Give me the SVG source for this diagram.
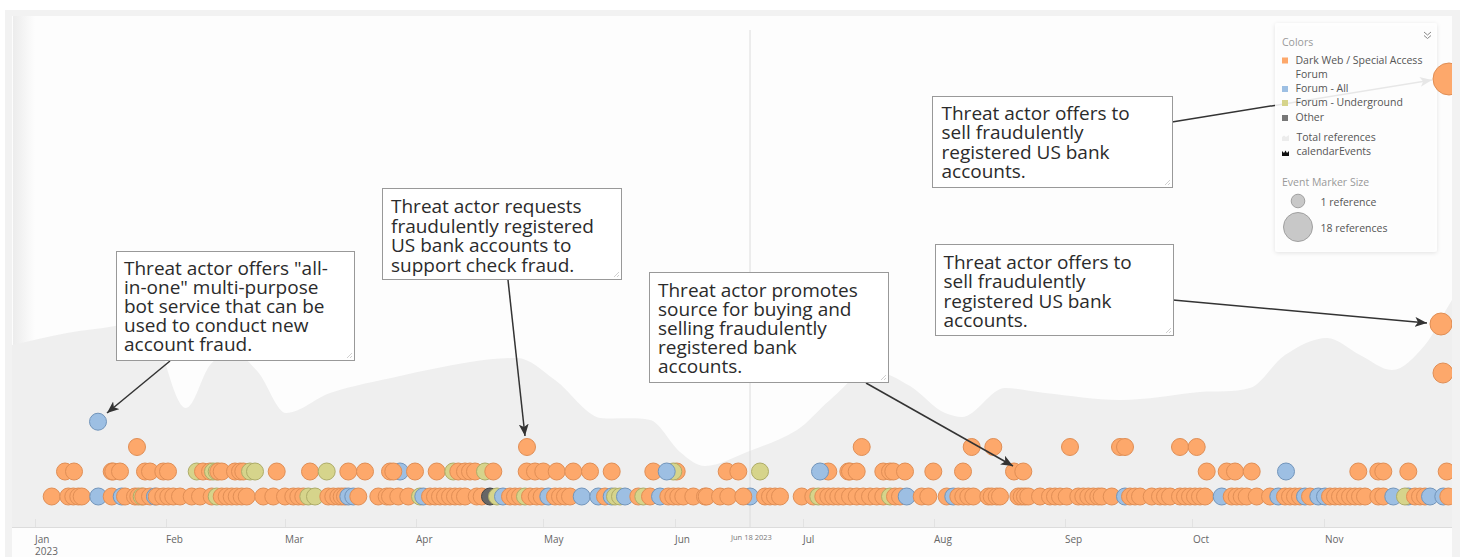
<svg xmlns="http://www.w3.org/2000/svg" width="1460" height="557" viewBox="0 0 1460 557">
<style>
text{font-family:"Open Sans","Noto Sans","Liberation Sans",sans-serif}
.o{fill:#fda86b;stroke:#e08e55;stroke-width:1}
.b{fill:#9dbfe3;stroke:#7295bb;stroke-width:1}
.y{fill:#d6d48b;stroke:#aeac68;stroke-width:1}
.k{fill:#666;stroke:#444;stroke-width:1}
.box{fill:#fff;stroke:#999;stroke-width:1}
.grip{stroke:#c4c4c4;stroke-width:0.8;fill:none}
.ct{font-size:19px;fill:#2b2b2b}
.ax{font-size:10px;fill:#666}
.lg{font-size:10.5px;fill:#555}
.lh{font-size:10.5px;fill:#999}
.conn{stroke:#333;stroke-width:1.5;fill:none;marker-end:url(#ah)}
</style>
<defs>
<marker id="ah" markerWidth="13" markerHeight="10" refX="12" refY="5" orient="auto" markerUnits="userSpaceOnUse">
<path d="M0,0 L12,5 L0,10 L3,5 z" fill="#333"/>
</marker>
<linearGradient id="lsh" x1="0" y1="0" x2="1" y2="0">
<stop offset="0" stop-color="#ececec"/>
<stop offset="1" stop-color="#fdfdfd"/>
</linearGradient>
<clipPath id="plot"><rect x="12" y="16" width="1440" height="511"/></clipPath>
<filter id="sh" x="-10%" y="-10%" width="120%" height="120%">
<feDropShadow dx="0" dy="1" stdDeviation="2" flood-color="#000" flood-opacity="0.12"/>
</filter>
</defs>

<g id="frame">
<rect x="0" y="0" width="1460" height="557" fill="#fff"/>
<rect x="5" y="10" width="1455" height="547" fill="#f2f2f2"/>
<rect x="12" y="16" width="1440" height="541" fill="#fdfdfd"/>
<rect x="13" y="16" width="22" height="511" fill="url(#lsh)"/>
<path fill="#efefef" d="M12,345 C30.3,341 48.7,336.4 67,333 C83,330.1 99,329.1 115,326 C125,324.1 135,318 145,318 C158.7,318 172.3,408 186,408 C194,408 202,374.7 210,365 C217.3,356.1 224.7,352 232,352 C240.7,352 249.3,362.2 258,372 C267.3,382.5 276.7,413 286,413 C300.7,413 315.3,397.8 330,393 C353.3,385.4 376.7,381.2 400,376 C423.3,370.8 446.7,365.6 470,362 C485.7,359.6 501.3,358 517,358 C529.7,358 542.3,370.8 555,380 C570,390.8 585,415 600,418 C616.7,419.7 633.3,416.7 650,420 C660,422 670,443.6 680,452 C688.3,459 696.7,466 705,466 C719,466 733,457.5 747,452 C763.7,445.5 780.3,440.5 797,430 C808,423.1 819,409 830,400 C843.3,389 856.7,370 870,370 C883.3,370 896.7,378.4 910,386 C921.7,392.7 933.3,408.3 945,413 C950.7,415.3 956.3,417 962,417 C976.3,417 990.7,388 1005,388 C1018.3,388 1031.7,391.6 1045,393 C1070,395.6 1095,400 1120,400 C1146.7,400 1173.3,394.5 1200,392 C1216.7,390.5 1233.3,393 1250,388 C1261.7,384.5 1273.3,362.6 1285,355 C1299,345.9 1313,338 1327,338 C1338,338 1349,349.6 1360,355 C1370.7,360.2 1381.3,370 1392,370 C1403,370 1414,357.8 1425,345 C1434,334.5 1443,313.5 1452,300 L1452,527 L12,527 Z"/>
<line x1="750" y1="30" x2="750" y2="527" stroke="#dcdcdc" stroke-width="1"/>
</g>

<g id="axis">
<line x1="12" y1="527.5" x2="1452" y2="527.5" stroke="#dcdcdc" stroke-width="1"/>
<g stroke="#e2e2e2" stroke-width="1">
<line x1="35.5" y1="519" x2="35.5" y2="527"/><line x1="166.5" y1="519" x2="166.5" y2="527"/><line x1="285.5" y1="519" x2="285.5" y2="527"/><line x1="416.5" y1="519" x2="416.5" y2="527"/><line x1="543.5" y1="519" x2="543.5" y2="527"/><line x1="675.5" y1="519" x2="675.5" y2="527"/><line x1="803.5" y1="519" x2="803.5" y2="527"/><line x1="934.5" y1="519" x2="934.5" y2="527"/><line x1="1065.5" y1="519" x2="1065.5" y2="527"/><line x1="1192.5" y1="519" x2="1192.5" y2="527"/><line x1="1324.5" y1="519" x2="1324.5" y2="527"/>
</g>
<text class="ax" x="35" y="543">Jan</text>
<text class="ax" x="35" y="554.5">2023</text>
<text class="ax" x="166" y="543">Feb</text>
<text class="ax" x="285" y="543">Mar</text>
<text class="ax" x="416" y="543">Apr</text>
<text class="ax" x="544" y="543">May</text>
<text class="ax" x="675" y="543">Jun</text>
<text class="ax" x="803" y="543">Jul</text>
<text class="ax" x="934" y="543">Aug</text>
<text class="ax" x="1065" y="543">Sep</text>
<text class="ax" x="1193" y="543">Oct</text>
<text class="ax" x="1325" y="543">Nov</text>
<text x="731" y="540" style="font-size:7.5px;fill:#777">Jun 18 2023</text>
</g>

<g id="markers" clip-path="url(#plot)">
<circle class="b" cx="98" cy="421.7" r="8.5"/>
<circle class="o" cx="137" cy="447" r="8.5"/>
<circle class="o" cx="527" cy="447" r="8.5"/>
<circle class="o" cx="861.7" cy="447" r="8.5"/>
<circle class="o" cx="971.7" cy="447" r="8.5"/>
<circle class="o" cx="993.3" cy="447" r="8.5"/>
<circle class="o" cx="1070" cy="447" r="8.5"/>
<circle class="o" cx="1120" cy="447" r="8.5"/>
<circle class="o" cx="1125" cy="447" r="8.5"/>
<circle class="o" cx="1180" cy="447" r="8.5"/>
<circle class="o" cx="1196.7" cy="447" r="8.5"/>
<circle class="o" cx="1441" cy="324" r="11"/>
<circle class="o" cx="1443" cy="373" r="10"/>

<circle class="o" cx="65" cy="471.5" r="8.5"/>
<circle class="o" cx="74" cy="471.5" r="8.5"/>
<circle class="o" cx="111.7" cy="471.5" r="8.5"/>
<circle class="o" cx="113.3" cy="471.5" r="8.5"/>
<circle class="o" cx="120" cy="471.5" r="8.5"/>
<circle class="o" cx="145" cy="471.5" r="8.5"/>
<circle class="o" cx="150" cy="471.5" r="8.5"/>
<circle class="o" cx="163.3" cy="471.5" r="8.5"/>
<circle class="o" cx="168" cy="471.5" r="8.5"/>
<circle class="y" cx="196.7" cy="471.5" r="8.5"/>
<circle class="o" cx="203" cy="471.5" r="8.5"/>
<circle class="o" cx="210" cy="471.5" r="8.5"/>
<circle class="y" cx="213" cy="471.5" r="8.5"/>
<circle class="y" cx="216.7" cy="471.5" r="8.5"/>
<circle class="o" cx="218.3" cy="471.5" r="8.5"/>
<circle class="o" cx="221.7" cy="471.5" r="8.5"/>
<circle class="o" cx="235" cy="471.5" r="8.5"/>
<circle class="o" cx="240" cy="471.5" r="8.5"/>
<circle class="o" cx="243.3" cy="471.5" r="8.5"/>
<circle class="y" cx="250" cy="471.5" r="8.5"/>
<circle class="y" cx="255" cy="471.5" r="8.5"/>
<circle class="o" cx="276.7" cy="471.5" r="8.5"/>
<circle class="o" cx="310" cy="471.5" r="8.5"/>
<circle class="y" cx="326.7" cy="471.5" r="8.5"/>
<circle class="o" cx="348.3" cy="471.5" r="8.5"/>
<circle class="o" cx="365" cy="471.5" r="8.5"/>
<circle class="b" cx="400" cy="471.5" r="8.5"/>
<circle class="o" cx="390" cy="471.5" r="8.5"/>
<circle class="o" cx="393.3" cy="471.5" r="8.5"/>
<circle class="o" cx="415" cy="471.5" r="8.5"/>
<circle class="o" cx="436.7" cy="471.5" r="8.5"/>
<circle class="y" cx="453.3" cy="471.5" r="8.5"/>
<circle class="o" cx="458.3" cy="471.5" r="8.5"/>
<circle class="o" cx="465" cy="471.5" r="8.5"/>
<circle class="o" cx="470" cy="471.5" r="8.5"/>
<circle class="o" cx="475" cy="471.5" r="8.5"/>
<circle class="y" cx="485" cy="471.5" r="8.5"/>
<circle class="o" cx="493.3" cy="471.5" r="8.5"/>
<circle class="o" cx="526.7" cy="471.5" r="8.5"/>
<circle class="o" cx="535" cy="471.5" r="8.5"/>
<circle class="o" cx="543.3" cy="471.5" r="8.5"/>
<circle class="o" cx="556.7" cy="471.5" r="8.5"/>
<circle class="o" cx="573.3" cy="471.5" r="8.5"/>
<circle class="o" cx="590" cy="471.5" r="8.5"/>
<circle class="o" cx="611.7" cy="471.5" r="8.5"/>
<circle class="o" cx="653.3" cy="471.5" r="8.5"/>
<circle class="o" cx="676.7" cy="471.5" r="8.5"/>
<circle class="y" cx="673.3" cy="471.5" r="8.5"/>
<circle class="b" cx="666.7" cy="471.5" r="8.5"/>
<circle class="o" cx="726.7" cy="471.5" r="8.5"/>
<circle class="o" cx="738.3" cy="471.5" r="8.5"/>
<circle class="y" cx="760" cy="471.5" r="8.5"/>
<circle class="o" cx="828.3" cy="471.5" r="8.5"/>
<circle class="b" cx="820" cy="471.5" r="8.5"/>
<circle class="o" cx="848.3" cy="471.5" r="8.5"/>
<circle class="o" cx="850" cy="471.5" r="8.5"/>
<circle class="o" cx="856.7" cy="471.5" r="8.5"/>
<circle class="o" cx="883.3" cy="471.5" r="8.5"/>
<circle class="o" cx="890" cy="471.5" r="8.5"/>
<circle class="o" cx="893.3" cy="471.5" r="8.5"/>
<circle class="o" cx="905" cy="471.5" r="8.5"/>
<circle class="o" cx="933.3" cy="471.5" r="8.5"/>
<circle class="o" cx="963" cy="471.5" r="8.5"/>
<circle class="o" cx="1014" cy="471.5" r="8.5"/>
<circle class="o" cx="1023.3" cy="471.5" r="8.5"/>
<circle class="o" cx="1206.7" cy="471.5" r="8.5"/>
<circle class="o" cx="1226.7" cy="471.5" r="8.5"/>
<circle class="o" cx="1235" cy="471.5" r="8.5"/>
<circle class="o" cx="1251.7" cy="471.5" r="8.5"/>
<circle class="b" cx="1286" cy="471.5" r="8.5"/>
<circle class="o" cx="1358.3" cy="471.5" r="8.5"/>
<circle class="o" cx="1378.3" cy="471.5" r="8.5"/>
<circle class="o" cx="1383.3" cy="471.5" r="8.5"/>
<circle class="o" cx="1408.3" cy="471.5" r="8.5"/>
<circle class="o" cx="1446.7" cy="471.5" r="8.5"/>

<circle class="o" cx="51.7" cy="496.5" r="8.5"/>
<circle class="o" cx="68.3" cy="496.5" r="8.5"/>
<circle class="o" cx="73.3" cy="496.5" r="8.5"/>
<circle class="o" cx="78.3" cy="496.5" r="8.5"/>
<circle class="o" cx="81.7" cy="496.5" r="8.5"/>
<circle class="b" cx="98.3" cy="496.5" r="8.5"/>
<circle class="o" cx="111.7" cy="496.5" r="8.5"/>
<circle class="b" cx="121.7" cy="496.5" r="8.5"/>
<circle class="o" cx="125" cy="496.5" r="8.5"/>
<circle class="o" cx="135" cy="496.5" r="8.5"/>
<circle class="o" cx="138.3" cy="496.5" r="8.5"/>
<circle class="y" cx="141.7" cy="496.5" r="8.5"/>
<circle class="o" cx="143.3" cy="496.5" r="8.5"/>
<circle class="o" cx="150" cy="496.5" r="8.5"/>
<circle class="b" cx="155" cy="496.5" r="8.5"/>
<circle class="o" cx="156.7" cy="496.5" r="8.5"/>
<circle class="o" cx="163.3" cy="496.5" r="8.5"/>
<circle class="o" cx="168.3" cy="496.5" r="8.5"/>
<circle class="o" cx="173.3" cy="496.5" r="8.5"/>
<circle class="o" cx="180" cy="496.5" r="8.5"/>
<circle class="o" cx="191.7" cy="496.5" r="8.5"/>
<circle class="o" cx="200" cy="496.5" r="8.5"/>
<circle class="o" cx="211.7" cy="496.5" r="8.5"/>
<circle class="y" cx="216.7" cy="496.5" r="8.5"/>
<circle class="o" cx="221.7" cy="496.5" r="8.5"/>
<circle class="o" cx="226.7" cy="496.5" r="8.5"/>
<circle class="o" cx="231.7" cy="496.5" r="8.5"/>
<circle class="o" cx="236.7" cy="496.5" r="8.5"/>
<circle class="o" cx="241.7" cy="496.5" r="8.5"/>
<circle class="o" cx="246.7" cy="496.5" r="8.5"/>
<circle class="o" cx="263.3" cy="496.5" r="8.5"/>
<circle class="o" cx="273.3" cy="496.5" r="8.5"/>
<circle class="o" cx="285" cy="496.5" r="8.5"/>
<circle class="o" cx="293.3" cy="496.5" r="8.5"/>
<circle class="o" cx="298.3" cy="496.5" r="8.5"/>
<circle class="o" cx="303.3" cy="496.5" r="8.5"/>
<circle class="y" cx="308.3" cy="496.5" r="8.5"/>
<circle class="y" cx="315" cy="496.5" r="8.5"/>
<circle class="o" cx="328.3" cy="496.5" r="8.5"/>
<circle class="o" cx="333.3" cy="496.5" r="8.5"/>
<circle class="o" cx="338.3" cy="496.5" r="8.5"/>
<circle class="o" cx="341.7" cy="496.5" r="8.5"/>
<circle class="o" cx="345" cy="496.5" r="8.5"/>
<circle class="b" cx="348.3" cy="496.5" r="8.5"/>
<circle class="b" cx="353.3" cy="496.5" r="8.5"/>
<circle class="o" cx="358.3" cy="496.5" r="8.5"/>
<circle class="o" cx="378.3" cy="496.5" r="8.5"/>
<circle class="o" cx="386.7" cy="496.5" r="8.5"/>
<circle class="o" cx="390" cy="496.5" r="8.5"/>
<circle class="o" cx="398.3" cy="496.5" r="8.5"/>
<circle class="o" cx="408.3" cy="496.5" r="8.5"/>
<circle class="y" cx="420" cy="496.5" r="8.5"/>
<circle class="b" cx="423.3" cy="496.5" r="8.5"/>
<circle class="o" cx="430" cy="496.5" r="8.5"/>
<circle class="o" cx="435" cy="496.5" r="8.5"/>
<circle class="o" cx="440" cy="496.5" r="8.5"/>
<circle class="o" cx="445" cy="496.5" r="8.5"/>
<circle class="o" cx="450" cy="496.5" r="8.5"/>
<circle class="o" cx="455" cy="496.5" r="8.5"/>
<circle class="o" cx="460" cy="496.5" r="8.5"/>
<circle class="o" cx="465" cy="496.5" r="8.5"/>
<circle class="o" cx="476.7" cy="496.5" r="8.5"/>
<circle class="o" cx="481.7" cy="496.5" r="8.5"/>
<circle class="k" cx="490" cy="496.5" r="8.5"/>
<circle class="y" cx="497" cy="496.5" r="8.5"/>
<circle class="b" cx="503" cy="496.5" r="8.5"/>
<circle class="o" cx="510" cy="496.5" r="8.5"/>
<circle class="o" cx="515" cy="496.5" r="8.5"/>
<circle class="o" cx="520" cy="496.5" r="8.5"/>
<circle class="y" cx="525" cy="496.5" r="8.5"/>
<circle class="o" cx="530" cy="496.5" r="8.5"/>
<circle class="o" cx="536.7" cy="496.5" r="8.5"/>
<circle class="o" cx="541.7" cy="496.5" r="8.5"/>
<circle class="b" cx="548.3" cy="496.5" r="8.5"/>
<circle class="o" cx="555" cy="496.5" r="8.5"/>
<circle class="o" cx="560" cy="496.5" r="8.5"/>
<circle class="o" cx="565" cy="496.5" r="8.5"/>
<circle class="o" cx="570" cy="496.5" r="8.5"/>
<circle class="b" cx="581.7" cy="496.5" r="8.5"/>
<circle class="b" cx="598.3" cy="496.5" r="8.5"/>
<circle class="o" cx="605" cy="496.5" r="8.5"/>
<circle class="b" cx="611.7" cy="496.5" r="8.5"/>
<circle class="y" cx="615" cy="496.5" r="8.5"/>
<circle class="y" cx="620" cy="496.5" r="8.5"/>
<circle class="b" cx="625" cy="496.5" r="8.5"/>
<circle class="o" cx="638.3" cy="496.5" r="8.5"/>
<circle class="y" cx="643.3" cy="496.5" r="8.5"/>
<circle class="o" cx="650" cy="496.5" r="8.5"/>
<circle class="b" cx="660" cy="496.5" r="8.5"/>
<circle class="o" cx="668.3" cy="496.5" r="8.5"/>
<circle class="o" cx="673.3" cy="496.5" r="8.5"/>
<circle class="o" cx="678.3" cy="496.5" r="8.5"/>
<circle class="o" cx="683.3" cy="496.5" r="8.5"/>
<circle class="o" cx="693.3" cy="496.5" r="8.5"/>
<circle class="o" cx="705" cy="496.5" r="8.5"/>
<circle class="o" cx="706.7" cy="496.5" r="8.5"/>
<circle class="o" cx="720" cy="496.5" r="8.5"/>
<circle class="o" cx="728.3" cy="496.5" r="8.5"/>
<circle class="b" cx="750" cy="496.5" r="8.5"/>
<circle class="o" cx="743.3" cy="496.5" r="8.5"/>
<circle class="o" cx="765" cy="496.5" r="8.5"/>
<circle class="o" cx="770" cy="496.5" r="8.5"/>
<circle class="o" cx="775" cy="496.5" r="8.5"/>
<circle class="o" cx="780" cy="496.5" r="8.5"/>
<circle class="o" cx="801.7" cy="496.5" r="8.5"/>
<circle class="o" cx="813.3" cy="496.5" r="8.5"/>
<circle class="y" cx="818.3" cy="496.5" r="8.5"/>
<circle class="o" cx="823.3" cy="496.5" r="8.5"/>
<circle class="o" cx="828.3" cy="496.5" r="8.5"/>
<circle class="o" cx="833.3" cy="496.5" r="8.5"/>
<circle class="o" cx="838.3" cy="496.5" r="8.5"/>
<circle class="o" cx="843.3" cy="496.5" r="8.5"/>
<circle class="o" cx="850" cy="496.5" r="8.5"/>
<circle class="o" cx="856.7" cy="496.5" r="8.5"/>
<circle class="o" cx="863.3" cy="496.5" r="8.5"/>
<circle class="o" cx="870" cy="496.5" r="8.5"/>
<circle class="o" cx="876.7" cy="496.5" r="8.5"/>
<circle class="o" cx="883.3" cy="496.5" r="8.5"/>
<circle class="y" cx="890" cy="496.5" r="8.5"/>
<circle class="o" cx="895" cy="496.5" r="8.5"/>
<circle class="o" cx="900" cy="496.5" r="8.5"/>
<circle class="b" cx="906.7" cy="496.5" r="8.5"/>
<circle class="o" cx="921.7" cy="496.5" r="8.5"/>
<circle class="o" cx="928.3" cy="496.5" r="8.5"/>
<circle class="o" cx="946.7" cy="496.5" r="8.5"/>
<circle class="b" cx="953.3" cy="496.5" r="8.5"/>
<circle class="o" cx="958.3" cy="496.5" r="8.5"/>
<circle class="o" cx="963.3" cy="496.5" r="8.5"/>
<circle class="o" cx="968.3" cy="496.5" r="8.5"/>
<circle class="o" cx="973.3" cy="496.5" r="8.5"/>
<circle class="o" cx="988.3" cy="496.5" r="8.5"/>
<circle class="o" cx="991.7" cy="496.5" r="8.5"/>
<circle class="o" cx="996.7" cy="496.5" r="8.5"/>
<circle class="o" cx="1000" cy="496.5" r="8.5"/>
<circle class="o" cx="1018.3" cy="496.5" r="8.5"/>
<circle class="o" cx="1021.7" cy="496.5" r="8.5"/>
<circle class="o" cx="1025" cy="496.5" r="8.5"/>
<circle class="o" cx="1028.3" cy="496.5" r="8.5"/>
<circle class="o" cx="1040" cy="496.5" r="8.5"/>
<circle class="o" cx="1050" cy="496.5" r="8.5"/>
<circle class="o" cx="1055" cy="496.5" r="8.5"/>
<circle class="o" cx="1060" cy="496.5" r="8.5"/>
<circle class="o" cx="1066.7" cy="496.5" r="8.5"/>
<circle class="o" cx="1078.3" cy="496.5" r="8.5"/>
<circle class="o" cx="1083.3" cy="496.5" r="8.5"/>
<circle class="o" cx="1088.3" cy="496.5" r="8.5"/>
<circle class="o" cx="1093.3" cy="496.5" r="8.5"/>
<circle class="o" cx="1098.3" cy="496.5" r="8.5"/>
<circle class="o" cx="1101.7" cy="496.5" r="8.5"/>
<circle class="o" cx="1111.7" cy="496.5" r="8.5"/>
<circle class="b" cx="1125" cy="496.5" r="8.5"/>
<circle class="o" cx="1130" cy="496.5" r="8.5"/>
<circle class="o" cx="1135" cy="496.5" r="8.5"/>
<circle class="o" cx="1140" cy="496.5" r="8.5"/>
<circle class="o" cx="1151.7" cy="496.5" r="8.5"/>
<circle class="o" cx="1160" cy="496.5" r="8.5"/>
<circle class="o" cx="1165" cy="496.5" r="8.5"/>
<circle class="o" cx="1170" cy="496.5" r="8.5"/>
<circle class="o" cx="1180" cy="496.5" r="8.5"/>
<circle class="o" cx="1185" cy="496.5" r="8.5"/>
<circle class="o" cx="1190" cy="496.5" r="8.5"/>
<circle class="o" cx="1195" cy="496.5" r="8.5"/>
<circle class="o" cx="1200" cy="496.5" r="8.5"/>
<circle class="o" cx="1205" cy="496.5" r="8.5"/>
<circle class="b" cx="1221.7" cy="496.5" r="8.5"/>
<circle class="o" cx="1231.7" cy="496.5" r="8.5"/>
<circle class="o" cx="1236.7" cy="496.5" r="8.5"/>
<circle class="o" cx="1241.7" cy="496.5" r="8.5"/>
<circle class="o" cx="1246.7" cy="496.5" r="8.5"/>
<circle class="o" cx="1256.7" cy="496.5" r="8.5"/>
<circle class="o" cx="1270" cy="496.5" r="8.5"/>
<circle class="b" cx="1278.3" cy="496.5" r="8.5"/>
<circle class="o" cx="1285" cy="496.5" r="8.5"/>
<circle class="o" cx="1290" cy="496.5" r="8.5"/>
<circle class="o" cx="1295" cy="496.5" r="8.5"/>
<circle class="o" cx="1300" cy="496.5" r="8.5"/>
<circle class="b" cx="1305" cy="496.5" r="8.5"/>
<circle class="o" cx="1310" cy="496.5" r="8.5"/>
<circle class="b" cx="1318.3" cy="496.5" r="8.5"/>
<circle class="b" cx="1325" cy="496.5" r="8.5"/>
<circle class="o" cx="1330" cy="496.5" r="8.5"/>
<circle class="o" cx="1335" cy="496.5" r="8.5"/>
<circle class="o" cx="1340" cy="496.5" r="8.5"/>
<circle class="o" cx="1345" cy="496.5" r="8.5"/>
<circle class="o" cx="1350" cy="496.5" r="8.5"/>
<circle class="o" cx="1355" cy="496.5" r="8.5"/>
<circle class="o" cx="1360" cy="496.5" r="8.5"/>
<circle class="o" cx="1365" cy="496.5" r="8.5"/>
<circle class="o" cx="1378.3" cy="496.5" r="8.5"/>
<circle class="o" cx="1383.3" cy="496.5" r="8.5"/>
<circle class="b" cx="1393.3" cy="496.5" r="8.5"/>
<circle class="b" cx="1408.3" cy="496.5" r="8.5"/>
<circle class="y" cx="1405" cy="496.5" r="8.5"/>
<circle class="o" cx="1415" cy="496.5" r="8.5"/>
<circle class="o" cx="1420" cy="496.5" r="8.5"/>
<circle class="o" cx="1425" cy="496.5" r="8.5"/>
<circle class="b" cx="1430" cy="496.5" r="8.5"/>
<circle class="b" cx="1443.3" cy="496.5" r="8.5"/>
<circle class="o" cx="1448.3" cy="496.5" r="8.5"/>
</g>

<g id="connectors">
<line class="conn" x1="170" y1="361" x2="107" y2="413"/>
<line class="conn" x1="508" y1="280" x2="525" y2="436"/>
<line class="conn" x1="866" y1="383" x2="1013" y2="466"/>
<line class="conn" x1="1172" y1="122" x2="1432" y2="80"/>
<line class="conn" x1="1173" y1="300" x2="1427" y2="323"/>
</g>

<g id="note-all-in-one">
<rect class="box" x="116.5" y="251.5" width="238" height="109"/>
<path class="grip" d="M347,358 L352,353 M350,358 L352,356"/>
<text class="ct"><tspan x="124" y="275">Threat actor offers "all-</tspan><tspan x="124" y="294">in-one" multi-purpose</tspan><tspan x="124" y="313">bot service that can be</tspan><tspan x="124" y="332">used to conduct new</tspan><tspan x="124" y="351">account fraud.</tspan></text>
</g>

<g id="note-requests">
<rect class="box" x="382.5" y="188.5" width="239" height="91"/>
<path class="grip" d="M614,277 L619,272 M617,277 L619,275"/>
<text class="ct"><tspan x="391" y="213">Threat actor requests</tspan><tspan x="391" y="232.5">fraudulently registered</tspan><tspan x="391" y="252">US bank accounts to</tspan><tspan x="391" y="271.5">support check fraud.</tspan></text>
</g>

<g id="note-promotes">
<rect class="box" x="649.5" y="272.5" width="239" height="110"/>
<path class="grip" d="M881,380 L886,375 M884,380 L886,378"/>
<text class="ct"><tspan x="658" y="297">Threat actor promotes</tspan><tspan x="658" y="316">source for buying and</tspan><tspan x="658" y="335">selling fraudulently</tspan><tspan x="658" y="354">registered bank</tspan><tspan x="658" y="373">accounts.</tspan></text>
</g>

<g id="note-offers-top">
<rect class="box" x="932.5" y="96.5" width="240" height="91"/>
<path class="grip" d="M1165,185 L1170,180 M1168,185 L1170,183"/>
<text class="ct"><tspan x="941.5" y="120">Threat actor offers to</tspan><tspan x="941.5" y="139.3">sell fraudulently</tspan><tspan x="941.5" y="158.7">registered US bank</tspan><tspan x="941.5" y="178">accounts.</tspan></text>
</g>

<g id="note-offers-bottom">
<rect class="box" x="935.5" y="244.5" width="238" height="91"/>
<path class="grip" d="M1166,333 L1171,328 M1169,333 L1171,331"/>
<text class="ct"><tspan x="943.5" y="269.3">Threat actor offers to</tspan><tspan x="943.5" y="288.3">sell fraudulently</tspan><tspan x="943.5" y="307.7">registered US bank</tspan><tspan x="943.5" y="326.7">accounts.</tspan></text>
</g>

<g id="legend">
<rect x="1275" y="23" width="162" height="229" rx="3" fill="#fff" fill-opacity="0.88" filter="url(#sh)"/>
<path d="M1424,32 l3.5,3 l3.5,-3 M1424,35.5 l3.5,3 l3.5,-3" stroke="#888" stroke-width="1" fill="none"/>
<text class="lh" x="1282" y="46">Colors</text>
<rect x="1282" y="57.5" width="6" height="6" fill="#fda86b"/>
<text class="lg" x="1295.5" y="63.5">Dark Web / Special Access</text>
<text class="lg" x="1295.5" y="77.5">Forum</text>
<rect x="1282" y="86" width="6" height="6" fill="#9dbfe3"/>
<text class="lg" x="1295.5" y="92.3">Forum - All</text>
<rect x="1282" y="100" width="6" height="6" fill="#d6d48b"/>
<text class="lg" x="1295.5" y="106.3">Forum - Underground</text>
<rect x="1282" y="115" width="6" height="6" fill="#777"/>
<text class="lg" x="1295.5" y="120.7">Other</text>
<path d="M1282,141 L1282,137 L1284,135.5 L1286,137 L1289,135 L1289,141 Z" fill="#ececec"/>
<text class="lg" x="1296.5" y="140.7">Total references</text>
<path d="M1282,156 L1282,151 L1284,153 L1285.5,150.5 L1287,153 L1289,151 L1289,156 Z" fill="#111"/>
<text class="lg" x="1296.5" y="155.3">calendarEvents</text>
<text class="lh" x="1282" y="185.7">Event Marker Size</text>
<circle cx="1298" cy="201" r="6.8" fill="#c8c8c8" stroke="#a0a0a0" stroke-width="1"/>
<text class="lg" x="1320.5" y="206">1 reference</text>
<circle cx="1298" cy="227" r="14.5" fill="#c8c8c8" stroke="#a0a0a0" stroke-width="1"/>
<text class="lg" x="1320.5" y="232.3">18 references</text>
</g>

<g id="marker-top-right" clip-path="url(#plot)">
<circle class="o" cx="1449" cy="79" r="16"/>
</g>
</svg>
